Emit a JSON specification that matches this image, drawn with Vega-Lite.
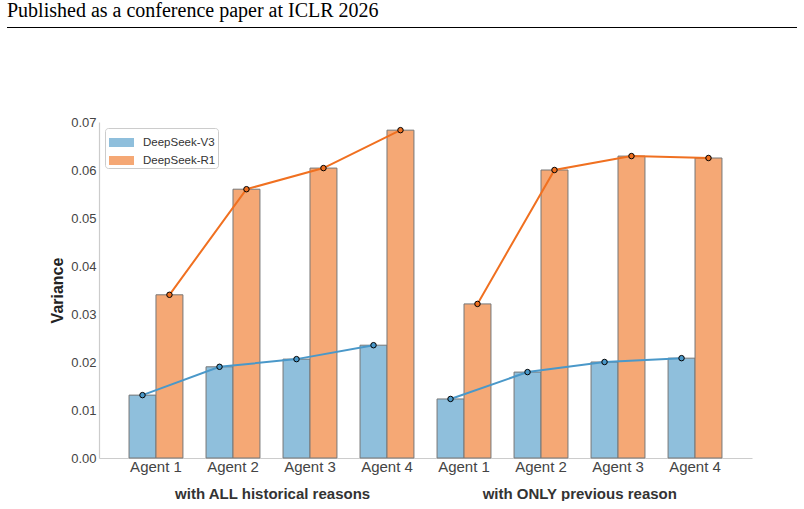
{
  "$schema": "https://vega.github.io/schema/vega-lite/v6.json",
  "padding": {"left": 7, "top": 0, "right": 0, "bottom": 0},
  "spacing": 83,
  "config": {
    "view": {"stroke": null},
    "font": "Liberation Sans"
  },
  "vconcat": [
    {
      "width": 790,
      "height": 1,
      "view": {"fill": "#000", "stroke": null},
      "title": {
        "text": "Published as a conference paper at ICLR 2026",
        "anchor": "start",
        "font": "Liberation Serif",
        "fontSize": 20,
        "fontWeight": "normal",
        "color": "#000",
        "baseline": "alphabetic",
        "offset": -15
      },
      "data": {"values": [{"t": ""}]},
      "mark": {"type": "text"},
      "encoding": {"text": {"field": "t"}}
    },
    {
      "spacing": 0,
      "hconcat": [
        {
          "width": 42,
          "height": 1,
          "view": {"fill": "#ffffff", "stroke": null},
          "data": {"values": [{"t": ""}]},
          "mark": {"type": "text"},
          "encoding": {"text": {"field": "t"}}
        },
        {
          "width": 653,
          "height": 336,
          "data": {
            "values": [
              {"key": "1|Agent 1", "group": "1", "series": "DeepSeek-V3", "value": 0.0131},
              {"key": "1|Agent 1", "group": "1", "series": "DeepSeek-R1", "value": 0.0340},
              {"key": "1|Agent 2", "group": "1", "series": "DeepSeek-V3", "value": 0.0190},
              {"key": "1|Agent 2", "group": "1", "series": "DeepSeek-R1", "value": 0.0560},
              {"key": "1|Agent 3", "group": "1", "series": "DeepSeek-V3", "value": 0.0206},
              {"key": "1|Agent 3", "group": "1", "series": "DeepSeek-R1", "value": 0.0604},
              {"key": "1|Agent 4", "group": "1", "series": "DeepSeek-V3", "value": 0.0235},
              {"key": "1|Agent 4", "group": "1", "series": "DeepSeek-R1", "value": 0.0683},
              {"key": "2|Agent 1", "group": "2", "series": "DeepSeek-V3", "value": 0.0123},
              {"key": "2|Agent 1", "group": "2", "series": "DeepSeek-R1", "value": 0.0321},
              {"key": "2|Agent 2", "group": "2", "series": "DeepSeek-V3", "value": 0.0179},
              {"key": "2|Agent 2", "group": "2", "series": "DeepSeek-R1", "value": 0.0600},
              {"key": "2|Agent 3", "group": "2", "series": "DeepSeek-V3", "value": 0.0200},
              {"key": "2|Agent 3", "group": "2", "series": "DeepSeek-R1", "value": 0.0629},
              {"key": "2|Agent 4", "group": "2", "series": "DeepSeek-V3", "value": 0.0208},
              {"key": "2|Agent 4", "group": "2", "series": "DeepSeek-R1", "value": 0.0625}
            ]
          },
          "encoding": {
            "x": {
              "field": "key",
              "type": "nominal",
              "scale": {
                "domain": ["1|Agent 1", "1|Agent 2", "1|Agent 3", "1|Agent 4", "2|Agent 1", "2|Agent 2", "2|Agent 3", "2|Agent 4"],
                "paddingInner": 0.3,
                "paddingOuter": 0.39
              },
              "axis": {
                "title": "with ALL historical reasons\u00a0\u00a0\u00a0\u00a0\u00a0\u00a0\u00a0\u00a0\u00a0\u00a0\u00a0\u00a0\u00a0\u00a0\u00a0\u00a0\u00a0\u00a0\u00a0\u00a0\u00a0\u00a0\u00a0\u00a0\u00a0\u00a0\u00a0with ONLY previous reason",
                "titleFontSize": 15,
                "titleFontWeight": "bold",
                "titleColor": "#333333",
                "titlePadding": 12,
                "labelExpr": "split(datum.label, '|')[1]",
                "labelAngle": 0,
                "ticks": false,
                "domainColor": "#cccccc",
                "domainWidth": 1.2,
                "labelFontSize": 15,
                "labelColor": "#444444",
                "labelPadding": 1
              }
            },
            "y": {
              "field": "value",
              "type": "quantitative",
              "scale": {"domain": [0, 0.07], "nice": false, "zero": true},
              "axis": {
                "title": "Variance",
                "values": [0, 0.01, 0.02, 0.03, 0.04, 0.05, 0.06, 0.07],
                "format": ".2f",
                "grid": false,
                "ticks": false,
                "domainColor": "#cccccc",
                "domainWidth": 1.2,
                "labelFontSize": 13,
                "labelColor": "#444444",
                "labelPadding": 3,
                "titleFontSize": 16,
                "titleFontWeight": "bold",
                "titleColor": "#222222",
                "titlePadding": 5
              }
            }
          },
          "layer": [
            {
              "mark": {"type": "bar", "stroke": "#777777", "strokeWidth": 1},
              "encoding": {
                "xOffset": {"field": "series", "type": "nominal", "scale": {"domain": ["DeepSeek-V3", "DeepSeek-R1"], "paddingInner": 0}},
                "fill": {
                  "field": "series",
                  "type": "nominal",
                  "scale": {"domain": ["DeepSeek-V3", "DeepSeek-R1"], "range": ["#8fbfdc", "#f5a875"]},
                  "legend": {
                    "title": null,
                    "orient": "top-left",
                    "offset": 6,
                    "padding": 2,
                    "strokeColor": "#cccccc",
                    "fillColor": "#ffffff",
                    "cornerRadius": 3,
                    "labelFontSize": 11.5,
                    "labelColor": "#333333",
                    "labelOffset": 9,
                    "symbolOffset": 2,
                    "symbolType": "M-1,-0.36H1V0.36H-1Z",
                    "symbolSize": 625,
                    "symbolStrokeWidth": 0,
                    "symbolStrokeColor": "transparent",
                    "rowPadding": -1.5
                  }
                }
              }
            },
            {
              "mark": {"type": "line", "strokeWidth": 2},
              "encoding": {
                "xOffset": {"field": "series", "type": "nominal", "scale": {"domain": ["DeepSeek-V3", "DeepSeek-R1"], "paddingInner": 0}},
                "detail": {"field": "group", "type": "nominal"},
                "stroke": {
                  "field": "series",
                  "type": "nominal",
                  "scale": {"domain": ["DeepSeek-V3", "DeepSeek-R1"], "range": ["#4a98c9", "#f07020"]},
                  "legend": null
                }
              }
            },
            {
              "mark": {"type": "point", "filled": true, "size": 30, "stroke": "#000000", "strokeWidth": 1, "opacity": 1},
              "encoding": {
                "xOffset": {"field": "series", "type": "nominal", "scale": {"domain": ["DeepSeek-V3", "DeepSeek-R1"], "paddingInner": 0}},
                "fill": {
                  "field": "series",
                  "type": "nominal",
                  "scale": {"domain": ["DeepSeek-V3", "DeepSeek-R1"], "range": ["#4a98c9", "#f07020"]},
                  "legend": null
                }
              }
            }
          ],
          "resolve": {"scale": {"fill": "independent"}}
        }
      ]
    }
  ]
}
